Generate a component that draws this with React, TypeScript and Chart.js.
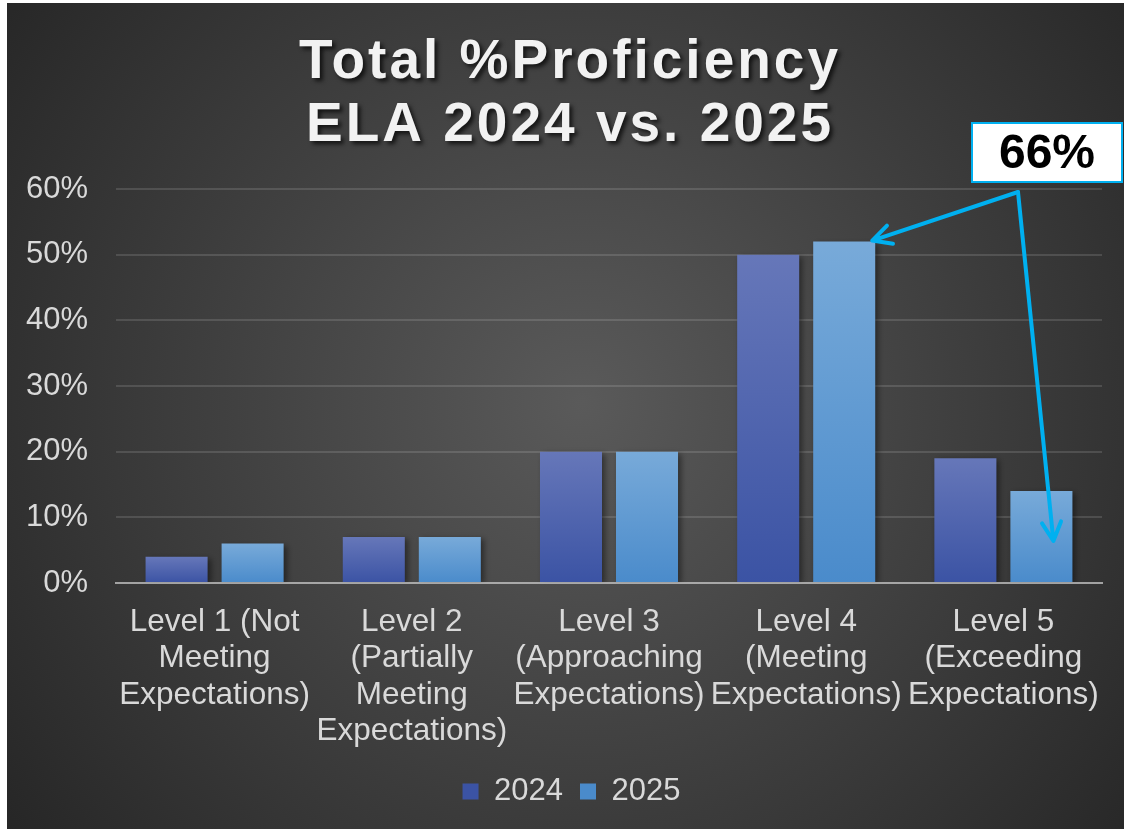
import React, { useEffect, useRef } from "react";
import { Chart, registerables } from "chart.js";

Chart.register(...registerables);

const categories: string[][] = [
  ["Level 1 (Not", "Meeting", "Expectations)"],
  ["Level 2", "(Partially", "Meeting", "Expectations)"],
  ["Level 3", "(Approaching", "Expectations)"],
  ["Level 4", "(Meeting", "Expectations)"],
  ["Level 5", "(Exceeding", "Expectations)"],
];
const values2024: number[] = [4, 7, 20, 50, 19];
const values2025: number[] = [6, 7, 20, 52, 14];
const seriesLabels: string[] = ["2024", "2025"];
const titleLines: string[] = ["Total %Proficiency", "ELA 2024 vs. 2025"];
const calloutText = "66%";

const FONT = "'Liberation Sans', Arial, sans-serif";
const TEXT = "#d9d9d9";
const ARROW = "#00b0f0";

function barFill(top: string, bottom: string, solid: string) {
  return (c: any) => {
    const chart = c.chart;
    const y = chart.scales && chart.scales.y;
    if (c.type !== "data" || !y || c.raw == null) return solid;
    const y0 = y.getPixelForValue(c.raw);
    const y1 = y.getPixelForValue(0);
    if (!isFinite(y0) || !isFinite(y1) || y1 - y0 < 1) return solid;
    const g = chart.ctx.createLinearGradient(0, y0, 0, y1);
    g.addColorStop(0, top);
    g.addColorStop(1, bottom);
    return g;
  };
}

function drawArrow(ctx: CanvasRenderingContext2D, x0: number, y0: number, x1: number, y1: number) {
  const ang = Math.atan2(y0 - y1, x0 - x1);
  const len = 21;
  const spread = (27 * Math.PI) / 180;
  ctx.beginPath();
  ctx.moveTo(x0, y0);
  ctx.lineTo(x1, y1);
  ctx.moveTo(x1 + len * Math.cos(ang - spread), y1 + len * Math.sin(ang - spread));
  ctx.lineTo(x1, y1);
  ctx.lineTo(x1 + len * Math.cos(ang + spread), y1 + len * Math.sin(ang + spread));
  ctx.stroke();
}

const decorPlugin = {
  id: "decor",
  beforeDraw(chart: any) {
    const { ctx, width, height } = chart;
    ctx.save();
    const g = ctx.createRadialGradient(575, 400, 0, 575, 400, 720);
    g.addColorStop(0, "#5a5a5a");
    g.addColorStop(1, "#262626");
    ctx.fillStyle = g;
    ctx.fillRect(0, 0, width, height);
    ctx.restore();
  },
  afterLayout(chart: any) {
    if (chart.legend) {
      chart.legend.left += 17;
      chart.legend.right += 17;
    }
  },
  beforeDatasetsDraw(chart: any) {
    const ctx = chart.ctx;
    ctx.save();
    ctx.shadowColor = "rgba(0,0,0,0.45)";
    ctx.shadowBlur = 6;
    ctx.shadowOffsetX = 3;
    ctx.shadowOffsetY = 2;
  },
  afterDatasetsDraw(chart: any) {
    chart.ctx.restore();
  },
  afterDraw(chart: any) {
    const ctx = chart.ctx as CanvasRenderingContext2D;
    // Title
    ctx.save();
    ctx.font = `bold 55px ${FONT}`;
    (ctx as any).letterSpacing = "3px";
    ctx.textAlign = "center";
    ctx.textBaseline = "alphabetic";
    ctx.fillStyle = "#f2f2f2";
    ctx.shadowColor = "rgba(0,0,0,0.7)";
    ctx.shadowBlur = 4;
    ctx.shadowOffsetX = 3;
    ctx.shadowOffsetY = 3;
    ctx.fillText(titleLines[0], 563, 75);
    ctx.fillText(titleLines[1], 563, 138);
    ctx.restore();

    // Arrows
    const m = chart.getDatasetMeta(1);
    const b4 = m.data[3];
    const b5 = m.data[4];
    const sx = 1011;
    const sy = 189;
    ctx.save();
    ctx.strokeStyle = ARROW;
    ctx.lineWidth = 4;
    ctx.lineCap = "round";
    ctx.lineJoin = "round";
    if (b4) drawArrow(ctx, sx, sy, b4.x + b4.width / 2 - 3, b4.y - 1);
    if (b5) drawArrow(ctx, sx, sy, b5.x + 12, b5.base - 41);
    ctx.restore();

    // Callout box
    ctx.save();
    ctx.fillStyle = "#ffffff";
    ctx.fillRect(965, 120, 150, 59);
    ctx.strokeStyle = ARROW;
    ctx.lineWidth = 2;
    ctx.strokeRect(965, 120, 150, 59);
    ctx.fillStyle = "#000000";
    ctx.font = `bold 48px ${FONT}`;
    ctx.textAlign = "center";
    ctx.textBaseline = "middle";
    ctx.fillText(calloutText, 1040, 152);
    ctx.restore();
  },
};

export default function App() {
  const ref = useRef<HTMLCanvasElement | null>(null);
  useEffect(() => {
    if (!ref.current) return;
    const chart = new Chart(ref.current, {
      type: "bar",
      data: {
        labels: categories,
        datasets: [
          {
            label: seriesLabels[0],
            data: values2024,
            backgroundColor: barFill("#6677b9", "#3b53a4", "#4c62ad"),
            categoryPercentage: 0.771,
            barPercentage: 0.816,
          },
          {
            label: seriesLabels[1],
            data: values2025,
            backgroundColor: barFill("#78aad9", "#4a8bcb", "#5c9bd5"),
            categoryPercentage: 0.771,
            barPercentage: 0.816,
          },
        ],
      },
      options: {
        responsive: false,
        animation: false,
        devicePixelRatio: 1,
        layout: { padding: { top: 186, left: 0, right: 22, bottom: 12 } },
        plugins: {
          title: { display: false },
          tooltip: { enabled: false },
          legend: {
            display: true,
            position: "bottom",
            labels: {
              color: TEXT,
              font: { family: FONT, size: 31 },
              boxWidth: 16,
              boxHeight: 16,
              padding: 17,
            },
          },
        },
        scales: {
          x: {
            grid: { display: false, drawTicks: false },
            border: { display: true, color: "rgba(200,200,200,0.75)", width: 2, z: 1 },
            ticks: {
              color: TEXT,
              font: { family: FONT, size: 31.5, lineHeight: 1.159 },
              padding: 21,
              maxRotation: 0,
              minRotation: 0,
              autoSkip: false,
            },
            afterFit: (s: any) => {
              s.height = 176;
            },
          },
          y: {
            min: 0,
            max: 60,
            grid: {
              drawTicks: false,
              color: (c: any) => (c.tick && c.tick.value === 0 ? "rgba(0,0,0,0)" : "rgba(255,255,255,0.13)"),
              lineWidth: 2,
            },
            border: { display: false },
            ticks: {
              stepSize: 10,
              color: TEXT,
              font: { family: FONT, size: 31 },
              padding: 28,
              callback: (v: any) => `${v}%`,
            },
            afterFit: (s: any) => {
              s.width = 109;
            },
          },
        },
      },
      plugins: [decorPlugin],
    } as any);
    return () => chart.destroy();
  }, []);
  return (
    <canvas
      ref={ref}
      width={1117}
      height={826}
      style={{ position: "absolute", left: 7, top: 3, width: 1117, height: 826 }}
    />
  );
}
